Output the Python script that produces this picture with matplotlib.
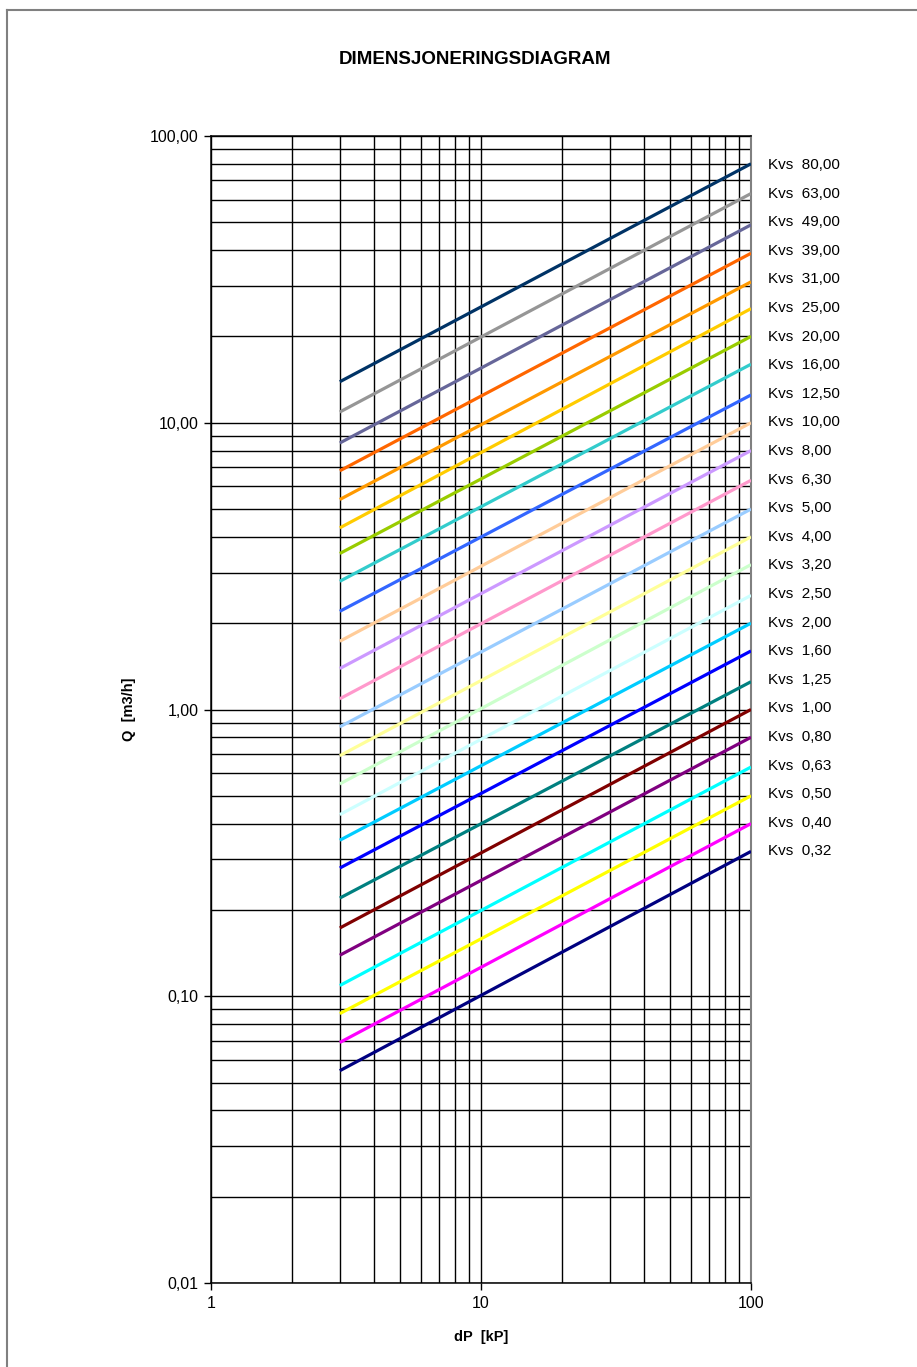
import matplotlib.pyplot as plt
from matplotlib.lines import Line2D

# Kvs-verdier og tilhørende Q ved dP = 3 og dP = 100 kPa
kvs_labels = ["Kvs  80,00", "Kvs  63,00", "Kvs  49,00", "Kvs  39,00", "Kvs  31,00",
              "Kvs  25,00", "Kvs  20,00", "Kvs  16,00", "Kvs  12,50", "Kvs  10,00",
              "Kvs  8,00", "Kvs  6,30", "Kvs  5,00", "Kvs  4,00", "Kvs  3,20",
              "Kvs  2,50", "Kvs  2,00", "Kvs  1,60", "Kvs  1,25", "Kvs  1,00",
              "Kvs  0,80", "Kvs  0,63", "Kvs  0,50", "Kvs  0,40", "Kvs  0,32"]
dp_points = [3, 100]
q_start = [13.9, 10.9, 8.5, 6.8, 5.4, 4.3, 3.5, 2.8, 2.2, 1.73, 1.39, 1.09,
           0.87, 0.69, 0.55, 0.43, 0.35, 0.28, 0.22, 0.173, 0.139, 0.109,
           0.087, 0.069, 0.055]
q_end = [80, 63, 49, 39, 31, 25, 20, 16, 12.5, 10, 8, 6.3, 5, 4, 3.2, 2.5,
         2, 1.6, 1.25, 1, 0.8, 0.63, 0.5, 0.4, 0.32]
colors = ["#003366", "#969696", "#666699", "#FF6600", "#FF9900", "#FFCC00",
          "#99CC00", "#33CCCC", "#3366FF", "#FFCC99", "#CC99FF", "#FF99CC",
          "#99CCFF", "#FFFF99", "#CCFFCC", "#CCFFFF", "#00CCFF", "#0000FF",
          "#008080", "#800000", "#800080", "#00FFFF", "#FFFF00", "#FF00FF",
          "#000080"]

x_ticks = [1, 10, 100]
x_ticklabels = ["1", "10", "100"]
y_ticks = [0.01, 0.1, 1, 10, 100]
y_ticklabels = ["0,01", "0,10", "1,00", "10,00", "100,00"]

plt.rcParams['font.family'] = ['Liberation Sans', 'DejaVu Sans']

W, H = 917, 1367
fig = plt.figure(figsize=(W / 100, H / 100), dpi=100)
ax = fig.add_axes([211 / W, 1 - 1283 / H, (751 - 211) / W, (1283 - 136) / H])

ax.set_xscale('log')
ax.set_yscale('log')
ax.set_xlim(1, 100)
ax.set_ylim(0.01, 100)

for q0, q1, c in zip(q_start, q_end, colors):
    ax.plot(dp_points, [q0, q1], color=c, lw=2.3, solid_capstyle='butt', zorder=3)

ax.grid(True, which='both', color='black', lw=1.0)
ax.set_xticks(x_ticks)
ax.set_xticklabels(x_ticklabels)
ax.set_yticks(y_ticks)
ax.set_yticklabels(y_ticklabels)
ax.tick_params(which='minor', length=0)
ax.tick_params(which='major', direction='out', length=5, width=1.0,
               labelsize=11.5, pad=4, colors='black')
for side in ['left', 'bottom', 'top']:
    ax.spines[side].set_color('black')
    ax.spines[side].set_linewidth(1.1)
ax.spines['right'].set_color('#808080')
ax.spines['right'].set_linewidth(1.5)

ax.set_xlabel("dP  [kP]", fontsize=10.5, fontweight='bold', labelpad=14)
ax.set_ylabel("Q  [m3/h]", fontsize=10.5, fontweight='bold', labelpad=10)

fig.text(475 / W, 1 - 60 / H, "DIMENSJONERINGSDIAGRAM", ha='center', va='center',
         fontsize=13.5, fontweight='bold')

# forklaringstekster til høyre
y0, step = 165, 28.6
for i, lab in enumerate(kvs_labels):
    fig.text(768 / W, 1 - (y0 + i * step) / H, lab, ha='left', va='center',
             fontsize=11)

# ramme rundt figuren
fig.add_artist(Line2D([7 / W, 7 / W], [0, 1 - 10 / H], color='#808080', lw=1.5))
fig.add_artist(Line2D([7 / W, 1], [1 - 10 / H, 1 - 10 / H], color='#808080', lw=1.5))

fig.savefig("out.png", dpi=100)
